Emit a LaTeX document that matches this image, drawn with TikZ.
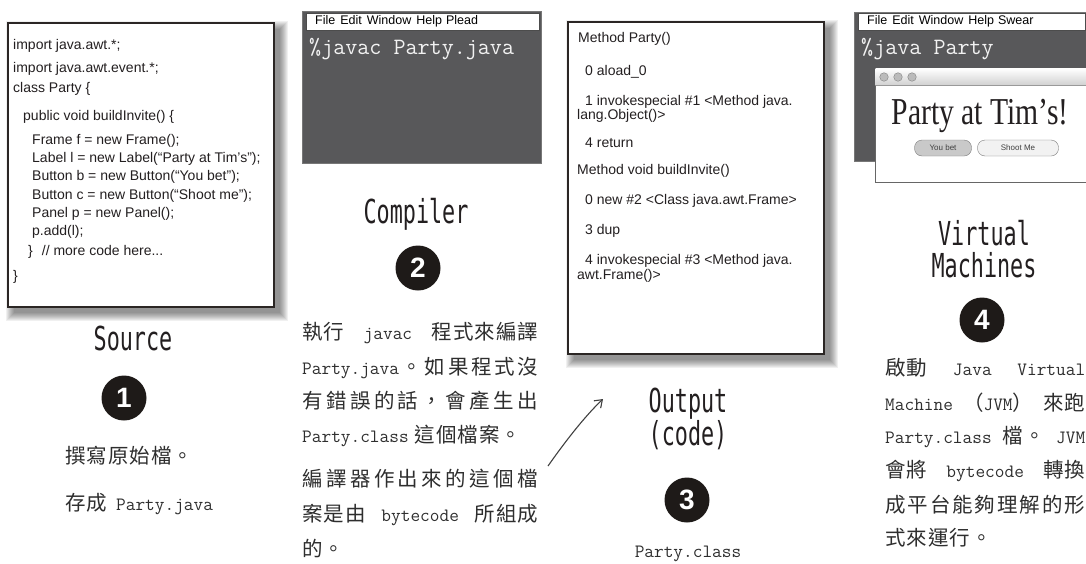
\documentclass[tikz,border=0pt]{standalone}
\usepackage{fontspec}
\setmainfont{Liberation Sans}
\newfontfamily\cjkf{Noto Sans CJK TC}
\newfontfamily\lblf[FakeStretch=0.66]{DejaVu Sans Mono}
\newfontfamily\partyf[FakeStretch=0.78]{Liberation Serif}
\usetikzlibrary{arrows.meta}
\definecolor{termbg}{HTML}{58585A}
\definecolor{termtext}{HTML}{F2F2F2}
\definecolor{ink}{HTML}{231F20}
\definecolor{txtg}{HTML}{2E2E2E}
\definecolor{boxline}{HTML}{2B2624}
\definecolor{numfill}{HTML}{1E1A18}
\definecolor{frameline}{HTML}{777777}
\definecolor{btnline}{HTML}{7A7A7A}
\definecolor{btnfill}{HTML}{C9C9C9}
\definecolor{btnfilltwo}{HTML}{F2F2F2}
\definecolor{lightgray}{HTML}{BBBBBB}
\def\sprdEnd{}
\def\sprdA#1#2{#1\ifx#2\sprdEnd\else\cjsep\expandafter\sprdA\expandafter#2\fi}
\newcommand\cjN[1]{{\cjkf\def\cjsep{\kern1pt}\sprdA#1\sprdEnd}}
\newcommand\cjS[1]{{\cjkf\def\cjsep{\hfil}\sprdA#1\sprdEnd}}
\newcommand\mnt[1]{{\ttfamily\fontsize{18.8}{20}\selectfont #1}}
\newcommand\boxshadow[4]{\foreach \i in {0,...,8}{\fill[black,opacity=0.06] (#1+7-\i,#2+7-\i) rectangle (#3+7+\i,#4+7+\i);}}
\begin{document}
\begin{tikzpicture}[x=1pt,y=-1pt,
  box/.style={draw=boxline, line width=2.4pt, fill=white, inner sep=0, anchor=north west},
  code/.style={anchor=mid west, inner sep=0, text=ink, font=\fontsize{14}{16}\selectfont},
  lbl/.style={anchor=base, inner sep=0, text=ink, font=\lblf\fontsize{33}{36}\selectfont},
  num/.style={circle, fill=numfill, text=white, minimum size=45pt, inner sep=0, font=\bfseries\fontsize{28}{30}\selectfont},
  cjl/.style={anchor=base west, inner sep=0, text=txtg, font=\fontsize{20.5}{24}\selectfont},
  menu/.style={anchor=mid west, inner sep=0, text=black, font=\fontsize{12.5}{14}\selectfont},
  term/.style={anchor=mid west, inner sep=0, text=termtext, font=\ttfamily\fontsize{23.4}{25}\selectfont},
  btn/.style={rounded corners=7.5pt, draw=btnline, minimum height=16pt, inner sep=0, font=\fontsize{8}{9}\selectfont, text=black!75}]
\useasboundingbox (0,0) rectangle (1086,563);

% ---------- Source box ----------
\boxshadow{7}{22}{273}{306}
\node[box, minimum width=266pt, minimum height=284pt] (src) at (7,22) {};
\node[code] (s1) at (13,47) {import java.awt.*;};
\node[code] (s2) at (13,70) {import java.awt.event.*;};
\node[code] (s3) at (13,90) {class Party \{};
\node[code] (s4) at (23,118) {public void buildInvite() \{};
\node[code] (s5) at (32,142) {Frame f = new Frame();};
\node[code] (s6) at (32,160) {Label l = new Label(“Party at Tim’s”);};
\node[code] (s7) at (32,178) {Button b = new Button(“You bet”);};
\node[code] (s8) at (32,197) {Button c = new Button(“Shoot me”);};
\node[code] (s9) at (32,215) {Panel p = new Panel();};
\node[code] (s10) at (32,233) {p.add(l);};
\node[code] (s11) at (28,253) {\}\hspace{9pt}// more code here...};
\node[code] (s12) at (13,278) {\}};

\node[lbl] (lsrc) at (133,350) {Source};
\node[num] (n1) at (124,398) {1};
\node[cjl] (t1a) at (65,463) {\cjN{撰寫原始檔。}};
\node[cjl] (t1b) at (65,510) {\cjN{存成}\hspace{9pt}\mnt{Party.java}};

% ---------- Compiler window ----------
\node[fill=termbg, draw=frameline, minimum width=239pt, minimum height=152pt, inner sep=0, anchor=north west] (comp) at (302,11) {};
\node[fill=white, draw=black!70, line width=0.6pt, minimum width=233pt, minimum height=17pt, inner sep=0, anchor=north west] (compmenu) at (306,13) {};
\node[menu] (cm) at (315,22) {File\hspace{5pt}Edit\hspace{5pt}Window\hspace{5pt}Help\hspace{4pt}Plead};
\node[term] (ct) at (309,52) {\%javac Party.java};

\node[lbl] (lcomp) at (416,223) {Compiler};
\node[num] (n2) at (418,268) {2};
\node[cjl] (t2a) at (302,339) {\makebox[236pt][s]{\cjN{執行}\hfil\mnt{javac}\hfil\cjN{程式來編譯}}};
\node[cjl] (t2b) at (302,374) {\makebox[236pt][s]{\mnt{Party.java}\hfil\cjS{。如果程式沒}}};
\node[cjl] (t2c) at (302,408) {\makebox[236pt][s]{\cjS{有錯誤的話，會產生出}}};
\node[cjl] (t2d) at (302,442) {\mnt{Party.class}\hspace{6pt}\cjN{這個檔案。}};
\node[cjl] (t2e) at (302,486) {\makebox[236pt][s]{\cjS{編譯器作出來的這個檔}}};
\node[cjl] (t2f) at (302,521) {\makebox[236pt][s]{\cjN{案是由}\hfil\mnt{bytecode}\hfil\cjN{所組成}}};
\node[cjl] (t2g) at (302,556) {\cjN{的。}};

% ---------- Output box ----------
\boxshadow{567}{21}{823}{353}
\node[box, minimum width=256pt, minimum height=332pt] (out) at (567,21) {};
\node[code] (o1) at (578,40) {Method Party()};
\node[code] (o2) at (585,73) {0 aload\_0};
\node[code] (o3) at (585,103) {1 invokespecial \#1 <Method java.};
\node[code] (o4) at (577,117) {lang.Object()>};
\node[code] (o5) at (585,145) {4 return};
\node[code] (o6) at (577,172) {Method void buildInvite()};
\node[code] (o7) at (585,202) {0 new \#2 <Class java.awt.Frame>};
\node[code] (o8) at (585,232) {3 dup};
\node[code] (o9) at (585,262) {4 invokespecial \#3 <Method java.};
\node[code] (o10) at (577,277) {awt.Frame()>};

\node[lbl] (lout) at (688,412) {Output};
\node[lbl] (lcode) at (688,445) {(code)};
\node[num] (n3) at (687,500) {3};
\node[cjl, anchor=base] (t3) at (688,557) {\mnt{Party.class}};

\coordinate (atail) at (548,466);
\coordinate (ahead) at (603,399);
\draw[draw=black!75, line width=1.1pt, -{Straight Barb[length=7pt,width=10pt]}] (atail) .. controls (562,446) and (583,418) .. (ahead);

% ---------- Virtual machine window ----------
\node[fill=termbg, draw=frameline, minimum width=232pt, minimum height=149pt, inner sep=0, anchor=north west] (vm) at (854,12) {};
\node[fill=white, draw=black!70, line width=0.6pt, minimum width=227pt, minimum height=17pt, inner sep=0, anchor=north west] (vmmenu) at (858,13) {};
\node[menu] (vmm) at (867,22) {File\hspace{5pt}Edit\hspace{5pt}Window\hspace{5pt}Help\hspace{4pt}Swear};
\node[term] (vmt) at (861,52) {\%java Party};
\node[fill=white, draw=black!60, line width=0.8pt, minimum width=213pt, minimum height=114pt, inner sep=0, anchor=north west] (vmwin) at (875,68) {};
\shade[top color=white, bottom color=black!18] (875.5,68.5) rectangle (1086,85);
\draw[black!40, line width=0.6pt] (875.5,85) -- (1086,85);
\node[circle, fill=lightgray, draw=black!45, line width=0.5pt, minimum size=8.5pt, inner sep=0] (b1) at (884,77) {};
\node[circle, fill=lightgray, draw=black!45, line width=0.5pt, minimum size=8.5pt, inner sep=0] (b2) at (898,77) {};
\node[circle, fill=lightgray, draw=black!45, line width=0.5pt, minimum size=8.5pt, inner sep=0] (b3) at (912,77) {};
\node[inner sep=0, text=ink, font=\partyf\fontsize{38}{40}\selectfont] (ptim) at (980,116) {Party at Tim’s!};
\node[btn, fill=btnfill, minimum width=57pt] (yb) at (943,148) {You bet};
\node[btn, fill=btnfilltwo, minimum width=81pt] (sm) at (1018,148) {Shoot Me};

\node[lbl] (lvm1) at (984,245) {Virtual};
\node[lbl] (lvm2) at (984,277) {Machines};
\node[num] (n4) at (982,320) {4};
\node[cjl] (t4a) at (885,375) {\makebox[200pt][s]{\cjN{啟動}\hfil\mnt{Java}\hfil\mnt{Virtual}}};
\node[cjl] (t4b) at (885,410) {\makebox[200pt][s]{\mnt{Machine}\hfil\cjN{（}\mnt{JVM}\cjN{）}\hfil\cjN{來跑}}};
\node[cjl] (t4c) at (885,443) {\makebox[200pt][s]{\mnt{Party.class}\hfil\cjN{檔。}\hfil\mnt{JVM}}};
\node[cjl] (t4d) at (885,477) {\makebox[200pt][s]{\cjN{會將}\hfil\mnt{bytecode}\hfil\cjN{轉換}}};
\node[cjl] (t4e) at (885,512) {\makebox[200pt][s]{\cjS{成平台能夠理解的形}}};
\node[cjl] (t4f) at (885,545) {\cjN{式來運行。}};
\end{tikzpicture}
\end{document}
